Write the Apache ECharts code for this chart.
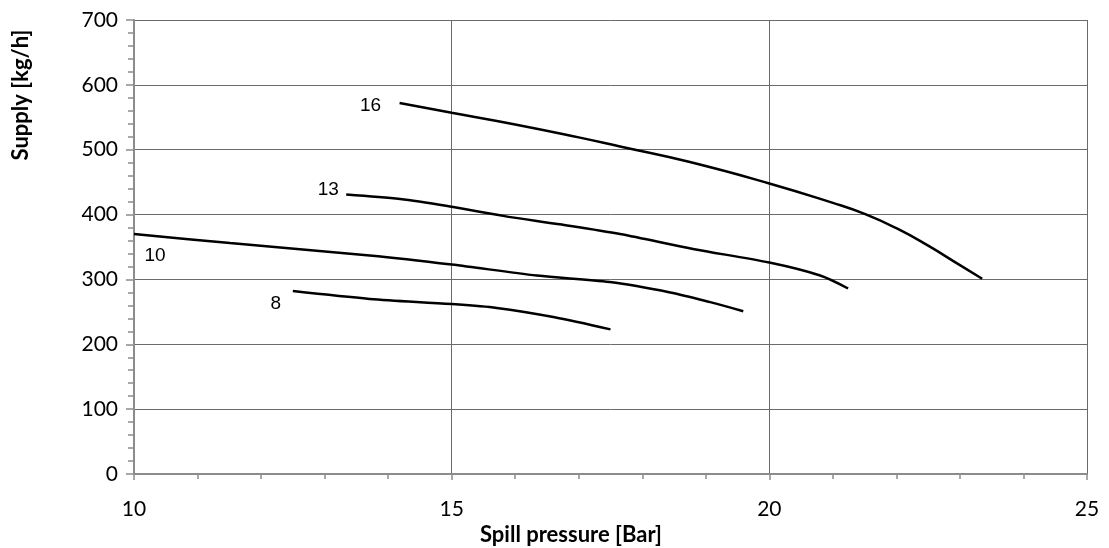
<!DOCTYPE html>
<html>
<head>
<meta charset="utf-8">
<script src="https://cdn.jsdelivr.net/npm/echarts@6/dist/echarts.min.js"></script>
<style>
html,body{margin:0;padding:0;background:#fff;}
#main{width:1109px;height:548px;}
</style>
</head>
<body>
<div id="main"></div>
<script>
// curve data (spill pressure [bar] / supply [kg/h])
var curveNames = ['16', '13', '10', '8'];

var x16 = [14.18, 15.0, 16.0, 17.0, 17.65, 18.75, 20.0, 21.0, 21.5, 22.0, 22.5, 23.0, 23.35];
var y16 = [572, 557, 539, 519, 505, 481, 448, 418, 401, 379, 352, 322, 301];

var x13 = [13.34, 14.19, 15.0, 15.81, 16.7, 17.65, 18.8, 20.0, 20.8, 21.24];
var y13 = [431, 424, 412, 398, 385, 370, 347, 326, 306, 286];

var x10 = [10.0, 11.51, 13.71, 15.0, 16.34, 17.49, 18.44, 19.07, 19.59];
var y10 = [370, 356, 337, 323, 306, 296, 280, 265, 251];

var x8 = [12.5, 13.71, 15.0, 15.71, 16.6, 17.5];
var y8 = [282, 270, 262, 256, 242, 223];

var xTicks = [10, 15, 20, 25];
var yTicks = [0, 100, 200, 300, 400, 500, 600, 700];

// label offsets (px) from the first point of each curve
var labelOffsets = [[-29, 3], [-18, -5], [21, 22], [-17, 13]];
var smoothness = [0.5, 0.3, 0.3, 0.3];

function pairs(xs, ys) {
	var out = [];
	for (var i = 0; i < xs.length; i++) {
		out.push([xs[i], ys[i]]);
	}
	return out;
}

var curves = [pairs(x16, y16), pairs(x13, y13), pairs(x10, y10), pairs(x8, y8)];

var chart = echarts.init(document.getElementById('main'));

var series = [];
for (var i = 0; i < curves.length; i++) {
	series.push({
		name: curveNames[i],
		type: 'line',
		smooth: smoothness[i],
		showSymbol: false,
		data: curves[i],
		lineStyle: { color: '#000', width: 2.5 },
		markPoint: {
			symbol: 'circle',
			symbolSize: 0,
			silent: true,
			data: [{ coord: curves[i][0], value: curveNames[i] }],
			label: {
				show: true,
				position: 'inside',
				offset: labelOffsets[i],
				formatter: '{c}',
				color: '#000',
				fontFamily: 'Liberation Sans',
				fontSize: 19
			}
		}
	});
}

var option = {
	animation: false,
	backgroundColor: '#fff',
	grid: { left: 134, right: 22, top: 20, bottom: 74, containLabel: false },
	xAxis: {
		type: 'value',
		min: xTicks[0],
		max: xTicks[xTicks.length - 1],
		interval: 5,
		axisLine: { show: true, onZero: false, lineStyle: { color: '#8c8c8c', width: 2 } },
		axisTick: { show: true, length: 6, lineStyle: { color: '#8c8c8c', width: 1.5 } },
		minorTick: { show: true, splitNumber: 5, length: 5, lineStyle: { color: '#8c8c8c', width: 1.5 } },
		axisLabel: { margin: 25, color: '#000', fontFamily: 'Lato', fontSize: 21 },
		splitLine: { show: true, lineStyle: { color: '#6a6a6a', width: 1 } }
	},
	yAxis: {
		type: 'value',
		min: yTicks[0],
		max: yTicks[yTicks.length - 1],
		interval: 100,
		axisLine: { show: true, onZero: false, lineStyle: { color: '#8c8c8c', width: 2 } },
		axisTick: { show: true, length: 8, lineStyle: { color: '#8c8c8c', width: 1.5 } },
		minorTick: { show: true, splitNumber: 5, length: 6, lineStyle: { color: '#8c8c8c', width: 1.5 } },
		axisLabel: { margin: 16, color: '#000', fontFamily: 'Lato', fontSize: 21 },
		splitLine: { show: true, lineStyle: { color: '#6a6a6a', width: 1 } }
	},
	graphic: [
		{
			type: 'text',
			x: 571, y: 535,
			style: {
				text: 'Spill pressure [Bar]',
				fill: '#000',
				font: 'bold 22px Lato',
				textAlign: 'center',
				textVerticalAlign: 'middle'
			}
		},
		{
			type: 'text',
			x: 21, y: 95,
			rotation: Math.PI / 2,
			style: {
				text: 'Supply [kg/h]',
				fill: '#000',
				font: 'bold 22px Lato',
				textAlign: 'center',
				textVerticalAlign: 'middle'
			}
		}
	],
	series: series
};

chart.setOption(option);
</script>
</body>
</html>
